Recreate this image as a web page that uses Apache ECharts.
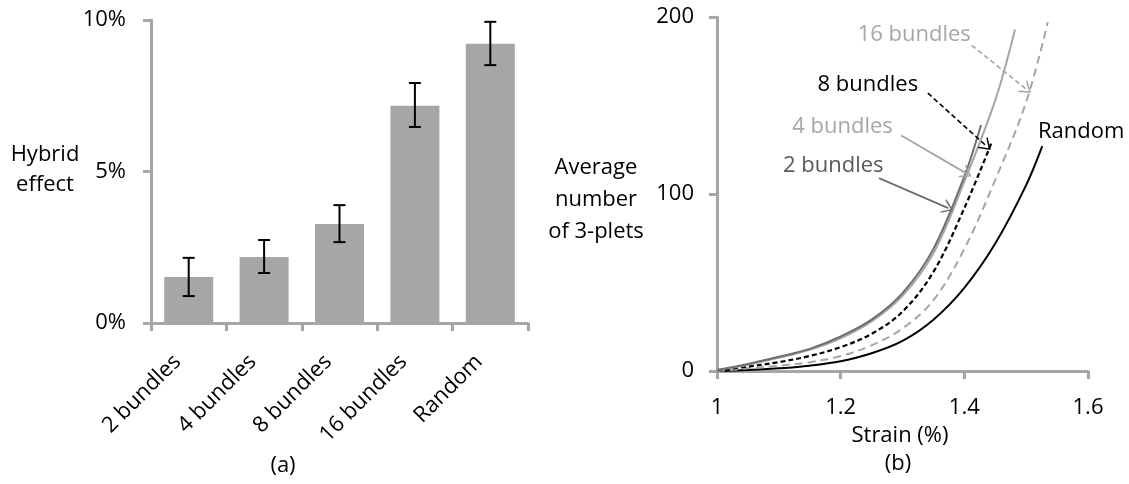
<!DOCTYPE html>
<html><head><meta charset="utf-8">
<script src="https://cdn.jsdelivr.net/npm/echarts@6/dist/echarts.min.js"></script>
<style>html,body{margin:0;padding:0;background:#fff}#c{width:1129px;height:484px}</style>
</head><body><div id="c"></div>
<script>
// ---- data: panel (a)
const categories = ['2 bundles', '4 bundles', '8 bundles', '16 bundles', 'Random'];
const hybridEffect = [1.52, 2.18, 3.27, 7.17, 9.22];
const errHigh = [2.15, 2.74, 3.89, 7.92, 9.94];
const errLow = [0.89, 1.65, 2.67, 6.47, 8.51];
const yTicksA = [0, 5, 10];
// ---- data: panel (b)
const strain2 = [1, 1.05, 1.1, 1.15, 1.2, 1.25, 1.3, 1.35, 1.4, 1.427];
const triplets2 = [0.5, 4, 8, 12.5, 19.5, 29, 44, 69, 110, 139];
const strain4 = [1, 1.05, 1.1, 1.15, 1.2, 1.25, 1.3, 1.35, 1.4, 1.45, 1.482];
const triplets4 = [0.5, 3.5, 7.5, 12, 18.5, 28, 42.5, 66.5, 107, 153, 193];
const strain8 = [1, 1.05, 1.1, 1.15, 1.2, 1.25, 1.3, 1.35, 1.4, 1.444];
const triplets8 = [0.5, 2.5, 5, 8.5, 13.5, 21, 33.5, 56, 92, 129];
const strain16 = [1, 1.05, 1.1, 1.15, 1.2, 1.25, 1.3, 1.35, 1.4, 1.45, 1.5, 1.535];
const triplets16 = [0, 1.5, 3, 5, 8.5, 14.5, 24, 40, 69, 108, 152, 197];
const strainR = [1, 1.05, 1.1, 1.15, 1.2, 1.25, 1.3, 1.35, 1.4, 1.45, 1.5, 1.526];
const tripletsR = [0, 0.5, 1.5, 3, 5.5, 10, 17, 29, 47, 72, 105, 127];
const xTicksB = [1, 1.2, 1.4, 1.6];
const yTicksB = [0, 100, 200];
// annotation anchors (data coords): label position, arrow start, arrow tip
const ann2 = {label: [1.188, 116], from: [1.262, 109], to: [1.374, 92]};
const ann4 = {label: [1.203, 138], from: [1.298, 133], to: [1.404, 111.5]};
const ann8 = {label: [1.244, 162], from: [1.341, 157], to: [1.436, 127]};
const ann16 = {label: [1.319, 190], from: [1.412, 184], to: [1.501, 159]};
const annR = {label: [1.589, 135]};

const FONT = '"Open Sans", "Noto Sans", sans-serif';
const FS = 22;
const AX = '#a6a6a6';
const chevron = 'path://M0,10 L5,0 L10,10 L8.8,10 L5,2.4 L1.2,10 Z';

function zip(a, b) { return a.map((v, i) => [v, b[i]]); }

function annotate(a, color, textColor, dashed, name) {
  const out = {
    markPoint: {
      silent: true, animation: false,
      symbol: 'circle', symbolSize: 1,
      itemStyle: {color: 'rgba(0,0,0,0)'},
      label: {show: true, position: 'inside', formatter: name, color: textColor,
               fontFamily: FONT, fontSize: FS},
      data: [{coord: a.label}]
    }
  };
  if (a.from) {
    out.markLine = {
      silent: true, animation: false,
      symbolSize: [15, 11],
      label: {show: false},
      lineStyle: {color: color, width: dashed ? 1.6 : 1.8, type: dashed ? [5, 3] : 'solid'},
      data: [[{coord: a.from, symbol: 'none'}, {coord: a.to, symbol: chevron}]]
    };
  }
  return out;
}

function lineSeries(name, xs, ys, color, dashed, width, ann, textColor) {
  return Object.assign({
    type: 'line', name: name, xAxisIndex: 1, yAxisIndex: 1,
    data: zip(xs, ys), showSymbol: false, symbol: 'none', smooth: 0.35,
    lineStyle: {color: color, width: width, type: dashed || 'solid'},
    z: 3
  }, annotate(ann, color, textColor, !!dashed, name));
}

const chart = echarts.init(document.getElementById('c'), null, {renderer: 'canvas'});
chart.setOption({
  animation: false,
  backgroundColor: '#fff',
  textStyle: {fontFamily: FONT},
  grid: [
    {left: 151, top: 20, width: 377, height: 303},
    {left: 717, top: 17, width: 371, height: 354}
  ],
  xAxis: [
    {
      type: 'category', gridIndex: 0, data: categories,
      axisLine: {lineStyle: {color: AX, width: 3}},
      axisTick: {show: true, length: 8, lineStyle: {color: AX, width: 3}},
      axisLabel: {rotate: 45, margin: 24, padding: [0, 16, 0, 0], color: '#000', fontSize: FS, fontFamily: FONT, interval: 0}
    },
    {
      type: 'value', gridIndex: 1, min: 1, max: 1.6, interval: 0.2,
      splitLine: {show: false},
      axisLine: {onZero: false, lineStyle: {color: AX, width: 3}},
      axisTick: {show: true, length: 8, lineStyle: {color: AX, width: 3}},
      axisLabel: {margin: 26, color: '#000', fontSize: FS, fontFamily: FONT,
        formatter: v => (xTicksB.indexOf(Math.round(v * 10) / 10) >= 0 ? String(Math.round(v * 10) / 10) : '')}
    }
  ],
  yAxis: [
    {
      type: 'value', gridIndex: 0, min: 0, max: 10, interval: 5,
      splitLine: {show: false},
      axisLine: {show: true, lineStyle: {color: AX, width: 3}},
      axisTick: {show: true, length: 8, lineStyle: {color: AX, width: 3}},
      axisLabel: {margin: 25, color: '#000', fontSize: FS, fontFamily: FONT,
        formatter: v => (yTicksA.indexOf(v) >= 0 ? v + '%' : '')}
    },
    {
      type: 'value', gridIndex: 1, min: 0, max: 200, interval: 100,
      splitLine: {show: false},
      axisLine: {show: true, lineStyle: {color: AX, width: 3}},
      axisTick: {show: true, length: 8, lineStyle: {color: AX, width: 3}},
      axisLabel: {margin: 23, color: '#000', fontSize: FS, fontFamily: FONT,
        formatter: v => (yTicksB.indexOf(v) >= 0 ? String(v) : '')}
    }
  ],
  series: [
    {
      type: 'bar', xAxisIndex: 0, yAxisIndex: 0, data: hybridEffect,
      barCategoryGap: '35%', itemStyle: {color: '#a6a6a6'}, z: 2
    },
    {
      type: 'custom', xAxisIndex: 0, yAxisIndex: 0, z: 5,
      data: categories.map((c, i) => [i, errHigh[i], errLow[i]]),
      encode: {x: 0, y: [1, 2]},
      renderItem: function (params, api) {
        const hi = api.coord([api.value(0), api.value(1)]);
        const lo = api.coord([api.value(0), api.value(2)]);
        const w = 6;
        const st = {stroke: '#000', lineWidth: 2};
        return {
          type: 'group',
          children: [
            {type: 'line', shape: {x1: hi[0], y1: hi[1], x2: lo[0], y2: lo[1]}, style: st},
            {type: 'line', shape: {x1: hi[0] - w, y1: hi[1], x2: hi[0] + w, y2: hi[1]}, style: st},
            {type: 'line', shape: {x1: lo[0] - w, y1: lo[1], x2: lo[0] + w, y2: lo[1]}, style: st}
          ]
        };
      }
    },
    lineSeries('Random', strainR, tripletsR, '#000000', null, 2, annR, '#000000'),
    lineSeries('16 bundles', strain16, triplets16, '#a6a6a6', [8, 5], 2, ann16, '#a6a6a6'),
    lineSeries('8 bundles', strain8, triplets8, '#000000', [5, 3], 2.2, ann8, '#000000'),
    lineSeries('4 bundles', strain4, triplets4, '#a6a6a6', null, 2, ann4, '#a6a6a6'),
    lineSeries('2 bundles', strain2, triplets2, '#6e6e6e', null, 2, ann2, '#595959')
  ],
  graphic: [
    {type: 'text', x: 45, y: 170, style: {text: 'Hybrid\neffect', fill: '#000', font: FS + 'px ' + FONT,
      textAlign: 'center', textVerticalAlign: 'middle', lineHeight: 30}},
    {type: 'text', x: 596, y: 200, style: {text: 'Average\nnumber\nof 3-plets', fill: '#000', font: FS + 'px ' + FONT,
      textAlign: 'center', textVerticalAlign: 'middle', lineHeight: 32}},
    {type: 'text', x: 900, y: 436, style: {text: 'Strain (%)', fill: '#000', font: FS + 'px ' + FONT,
      textAlign: 'center', textVerticalAlign: 'middle'}},
    {type: 'text', x: 283, y: 466, style: {text: '(a)', fill: '#000', font: FS + 'px ' + FONT,
      textAlign: 'center', textVerticalAlign: 'middle'}},
    {type: 'text', x: 898, y: 464, style: {text: '(b)', fill: '#000', font: FS + 'px ' + FONT,
      textAlign: 'center', textVerticalAlign: 'middle'}}
  ]
});
</script></body></html>
